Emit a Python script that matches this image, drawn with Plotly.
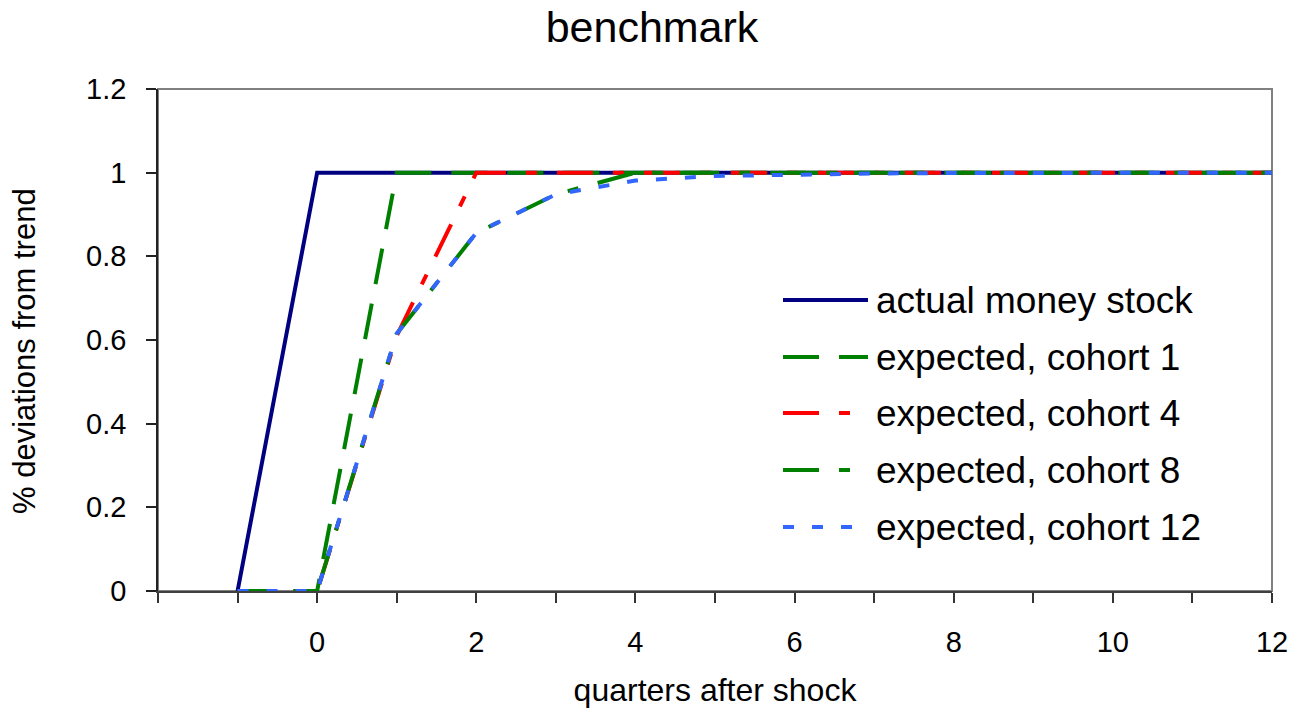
import plotly.graph_objects as go

# ---- data ----
quarters = [-1, 0, 1, 2, 3, 4, 5, 6, 7, 8, 9, 10, 11, 12]
actual_money = [0, 1, 1, 1, 1, 1, 1, 1, 1, 1, 1, 1, 1, 1]
cohort_1 = [0, 0, 1, 1, 1, 1, 1, 1, 1, 1, 1, 1, 1, 1]
cohort_4 = [0, 0, 0.61, 1, 1, 1, 1, 1, 1, 1, 1, 1, 1, 1]
cohort_8 = [0, 0, 0.615, 0.856, 0.948, 1, 1, 1, 1, 1, 1, 1, 1, 1]
cohort_12 = [0, 0, 0.615, 0.856, 0.948, 0.981, 0.992, 0.996, 0.998, 0.999, 1, 1, 1, 1]

series_names = ["actual money stock", "expected, cohort 1", "expected, cohort 4",
                "expected, cohort 8", "expected, cohort 12"]
series_values = [actual_money, cohort_1, cohort_4, cohort_8, cohort_12]

x_tick_vals = [0, 2, 4, 6, 8, 10, 12]
x_minor_vals = [-2, -1, 1, 3, 5, 7, 9, 11]
y_tick_vals = [0, 0.2, 0.4, 0.6, 0.8, 1.0, 1.2]
y_tick_text = ["0", "0.2", "0.4", "0.6", "0.8", "1", "1.2"]

# ---- styles ----
colors = ["#000080", "#008000", "#FF0000", "#008000", "#3366FF"]
dashes = ["solid", "36px,20px", "36px,20px,11px,20px", "36px,20px,11px,20px", "11px,18px"]
LW = 4
FONT = "Liberation Sans, Arial, sans-serif"

W, H = 1304, 712
ML, MR, MT, MB = 158, 32, 89, 121
PW, PH = W - ML - MR, H - MT - MB

fig = go.Figure()
for name, vals, col, dsh in zip(series_names, series_values, colors, dashes):
    fig.add_trace(go.Scatter(x=quarters, y=vals, mode="lines", name=name,
                             line=dict(color=col, width=LW, dash=dsh),
                             showlegend=False))

def px_x(p):
    return (p - ML) / PW

def px_y(p):
    return (H - MB - p) / PH

shapes = [dict(type="rect", xref="paper", yref="paper", x0=0, x1=1, y0=0, y1=1,
               line=dict(color="#808080", width=2), layer="below")]
annotations = []
row_y = [300, 357, 413, 470, 527]
for name, col, dsh, ry in zip(series_names, colors, dashes, row_y):
    shapes.append(dict(type="line", xref="paper", yref="paper",
                       x0=px_x(783), x1=px_x(868), y0=px_y(ry), y1=px_y(ry),
                       line=dict(color=col, width=LW, dash=dsh)))
    annotations.append(dict(text=name, xref="paper", yref="paper",
                            x=px_x(874), y=px_y(ry), xanchor="left", yanchor="middle",
                            showarrow=False, font=dict(family=FONT, size=37, color="black")))

# y-axis title placed as rotated text
annotations.append(dict(text="% deviations from trend", xref="paper", yref="paper",
                        x=px_x(24), y=px_y(351), xanchor="center", yanchor="middle",
                        textangle=-90, showarrow=False,
                        font=dict(family=FONT, size=31, color="black")))

fig.update_layout(
    width=W, height=H,
    margin=dict(l=ML, r=MR, t=MT, b=MB, autoexpand=False),
    paper_bgcolor="white", plot_bgcolor="white",
    font=dict(family=FONT, color="black"),
    title=dict(text="benchmark", x=0.5, xref="container", xanchor="center",
               y=1 - 27 / H, yref="container", yanchor="middle",
               font=dict(family=FONT, size=43, color="black")),
    shapes=shapes, annotations=annotations,
    showlegend=False,
)

fig.update_xaxes(range=[-2, 12], tickmode="array", tickvals=x_tick_vals,
                 ticks="outside", ticklen=10, tickwidth=2, tickcolor="#333333",
                 minor=dict(tickmode="array", tickvals=x_minor_vals, ticks="outside",
                            ticklen=10, tickwidth=2, tickcolor="#333333"),
                 showgrid=False, zeroline=False, showline=True, linecolor="#404040",
                 linewidth=2, tickfont=dict(family=FONT, size=29, color="black"),
                 ticklabelstandoff=14,
                 title=dict(text="quarters after shock", standoff=22,
                            font=dict(family=FONT, size=32, color="black")))
fig.update_yaxes(range=[0, 1.2], tickmode="array", tickvals=y_tick_vals, ticktext=y_tick_text,
                 ticks="outside", ticklen=10, tickwidth=1.5, tickcolor="#222222",
                 showgrid=False, zeroline=False, showline=True, linecolor="#222222",
                 linewidth=1.5, tickfont=dict(family=FONT, size=29, color="black"),
                 ticklabelstandoff=14)

fig.write_html("out.html", config={"displayModeBar": False},
               post_script="document.body.style.margin='0';document.body.style.padding='0';")
